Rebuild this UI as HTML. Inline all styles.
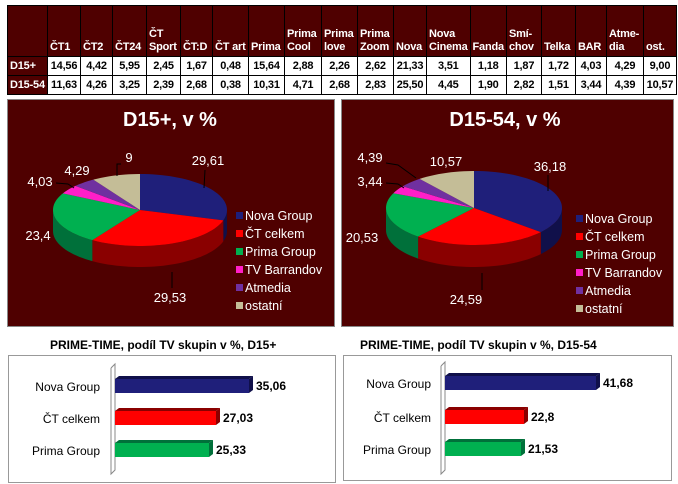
<!DOCTYPE html>
<html><head><meta charset="utf-8"><style>
body{margin:0;width:678px;height:484px;background:#fff;position:relative;overflow:hidden;font-family:"Liberation Sans","DejaVu Sans",sans-serif}
table{position:absolute;left:7px;top:5px;border-collapse:collapse;font-weight:bold;font-size:11px;letter-spacing:-0.2px}
td{border:1px solid #000;padding:0 2px;height:18px;text-align:center}
tr.h td{background:#4f0000;color:#fff;height:48px;vertical-align:bottom;text-align:left;line-height:13px;padding-bottom:2px}
td.r{background:#4f0000;color:#fff;text-align:left;white-space:nowrap}
.nw{white-space:nowrap}
.pan{position:absolute;background:#4f0000;border:1px solid #888}
.bt{position:absolute;font-weight:bold;font-size:12px;color:#000}
.bx{position:absolute;border:1px solid #999;background:#fff}
</style></head><body>
<table>
<tr class="h"><td style="width:35px"></td><td style="width:28px">ČT1</td><td style="width:27px">ČT2</td><td style="width:29px">ČT24</td><td style="width:29px">ČT Sport</td><td style="width:27px">ČT:D</td><td class="nw" style="width:31px">ČT art</td><td style="width:31px">Prima</td><td style="width:32px">Prima Cool</td><td style="width:31px">Prima love</td><td style="width:31px">Prima Zoom</td><td style="width:28px">Nova</td><td style="width:38px">Nova Cinema</td><td style="width:30px">Fanda</td><td style="width:30px">Smí-chov</td><td style="width:29px">Telka</td><td style="width:26px">BAR</td><td style="width:32px">Atme-dia</td><td style="width:28px">ost.</td></tr>
<tr><td class="r">D15+</td><td>14,56</td><td>4,42</td><td>5,95</td><td>2,45</td><td>1,67</td><td>0,48</td><td>15,64</td><td>2,88</td><td>2,26</td><td>2,62</td><td>21,33</td><td>3,51</td><td>1,18</td><td>1,87</td><td>1,72</td><td>4,03</td><td>4,29</td><td>9,00</td></tr>
<tr><td class="r">D15-54</td><td>11,63</td><td>4,26</td><td>3,25</td><td>2,39</td><td>2,68</td><td>0,38</td><td>10,31</td><td>4,71</td><td>2,68</td><td>2,83</td><td>25,50</td><td>4,45</td><td>1,90</td><td>2,82</td><td>1,51</td><td>3,44</td><td>4,39</td><td>10,57</td></tr>
</table>
<div class="pan" style="left:7px;top:99px;width:326px;height:226px"></div>
<div class="pan" style="left:341px;top:99px;width:331px;height:226px"></div>
<svg id="pies" width="678" height="484" style="position:absolute;left:0;top:0"></svg>
<div class="bt" style="left:50px;top:338px">PRIME-TIME, podíl TV skupin v %, D15+</div>
<div class="bt" style="left:360px;top:338px">PRIME-TIME, podíl TV skupin v %, D15-54</div>
<div class="bx" style="left:8px;top:355px;width:326px;height:126px"></div>
<div class="bx" style="left:343px;top:355px;width:327px;height:124px"></div>
<svg id="bars" width="678" height="484" style="position:absolute;left:0;top:0"></svg>
<script>
var NS="http://www.w3.org/2000/svg";
function el(svg,tag,a,txt){var e=document.createElementNS(NS,tag);for(var k in a)e.setAttribute(k,a[k]);if(txt)e.textContent=txt;svg.appendChild(e);return e;}
var cols=["#1f1f7a","#ff0000","#00b050","#ff1fc8","#7030a0","#c4bd97"];
var side=["#10104a","#8a0000","#00703a","#a01080","#48206a","#8a8468"];
var names=["Nova Group","ČT celkem","Prima Group","TV Barrandov","Atmedia","ostatní"];
var P=document.getElementById("pies");
function pie(cx,cy,rx,ry,d,vals,title,tx,lx,ly,labs){
 el(P,"text",{x:tx,y:126,"font-size":20,"font-weight":"bold",fill:"#fff","text-anchor":"middle"},title);
 var tot=vals.reduce(function(a,b){return a+b},0),c=0,ang=[];
 vals.forEach(function(v){var a1=-Math.PI/2+c/tot*2*Math.PI;c+=v;ang.push([a1,-Math.PI/2+c/tot*2*Math.PI]);});
 function pt(t,dy){return (cx+rx*Math.cos(t)).toFixed(2)+","+(cy+ry*Math.sin(t)+(dy||0)).toFixed(2);}
 ang.forEach(function(a,i){
  [[0,Math.PI],[2*Math.PI,3*Math.PI]].forEach(function(r){
   var s=Math.max(a[0],r[0]),e=Math.min(a[1],r[1]);if(e<=s)return;
   var p="M"+pt(s);for(var t=s;t<e;t+=0.05)p+=" L"+pt(t);p+=" L"+pt(e)+" L"+pt(e,d);
   for(var t=e;t>s;t-=0.05)p+=" L"+pt(t,d);p+=" L"+pt(s,d)+"Z";
   el(P,"path",{d:p,fill:side[i]});});
 });
 ang.forEach(function(a,i){
  var p="M"+cx+","+cy+" L"+pt(a[0]);for(var t=a[0];t<a[1];t+=0.05)p+=" L"+pt(t);p+=" L"+pt(a[1])+"Z";
  el(P,"path",{d:p,fill:cols[i]});});
 names.forEach(function(n,i){var y=ly+i*18;el(P,"rect",{x:lx,y:y-8,width:7,height:7,fill:cols[i]});
  el(P,"text",{x:lx+9,y:y,"font-size":12.5,fill:"#fff"},n);});
 labs.forEach(function(l){el(P,"text",{x:l[1],y:l[2],"font-size":13,fill:"#fff","text-anchor":"middle"},l[0]);
  if(l[3])el(P,"polyline",{points:l[3],fill:"none",stroke:"#000","stroke-width":1});});
}
pie(140,210,87,36,21,[29.61,29.53,23.4,4.03,4.29,9],"D15+, v %",170,236,220,
 [["29,61",208,165,"205,170 204,188"],["9",129,162,"121,164 117,164 117,176"],["4,29",77,175],["4,03",40,186,"56,183 68,184 74,188"],["23,4",38,240],["29,53",170,302,"172,288 172,272"]]);
pie(474,208,88,37,22,[36.18,24.59,20.53,3.44,4.39,10.57],"D15-54, v %",505,576,223,
 [["36,18",550,171,"548,175 548,191"],["10,57",446,166],["4,39",370,162,"386,163 398,165 416,178"],["3,44",370,186,"386,183 398,184 404,188"],["20,53",362,242],["24,59",466,304,"482,290 482,273"]]);
var B=document.getElementById("bars");
function bars(ax,lab,items,top,bot){
 el(B,"polyline",{points:(ax-4)+","+(top+4)+" "+ax+","+top+" "+ax+","+bot+" "+(ax-4)+","+(bot+4)+" "+(ax-4)+","+(top+4),fill:"none",stroke:"#888"});
 items.forEach(function(it,i){var y=it[2];
  el(B,"polygon",{points:it[1]+","+y+" "+(it[1]+4)+","+(y-3)+" "+(it[1]+4)+","+(y+11)+" "+it[1]+","+(y+14),fill:side[i]});
  el(B,"polygon",{points:ax+","+y+" "+(ax+4)+","+(y-3)+" "+(it[1]+4)+","+(y-3)+" "+it[1]+","+y,fill:side[i]});
  el(B,"rect",{x:ax,y:y,width:it[1]-ax,height:14,fill:cols[i]});
  el(B,"text",{x:it[1]+7,y:y+11,"font-size":12,"font-weight":"bold"},it[0]);
  el(B,"text",{x:lab,y:y+12,"font-size":12,"text-anchor":"end"},names[i]);});
}
bars(115,100,[["35,06",249,379],["27,03",216,411],["25,33",209,443]],364,470);
bars(445,431,[["41,68",596,376],["22,8",524,410],["21,53",521,442]],362,470);
</script>
</body></html>
